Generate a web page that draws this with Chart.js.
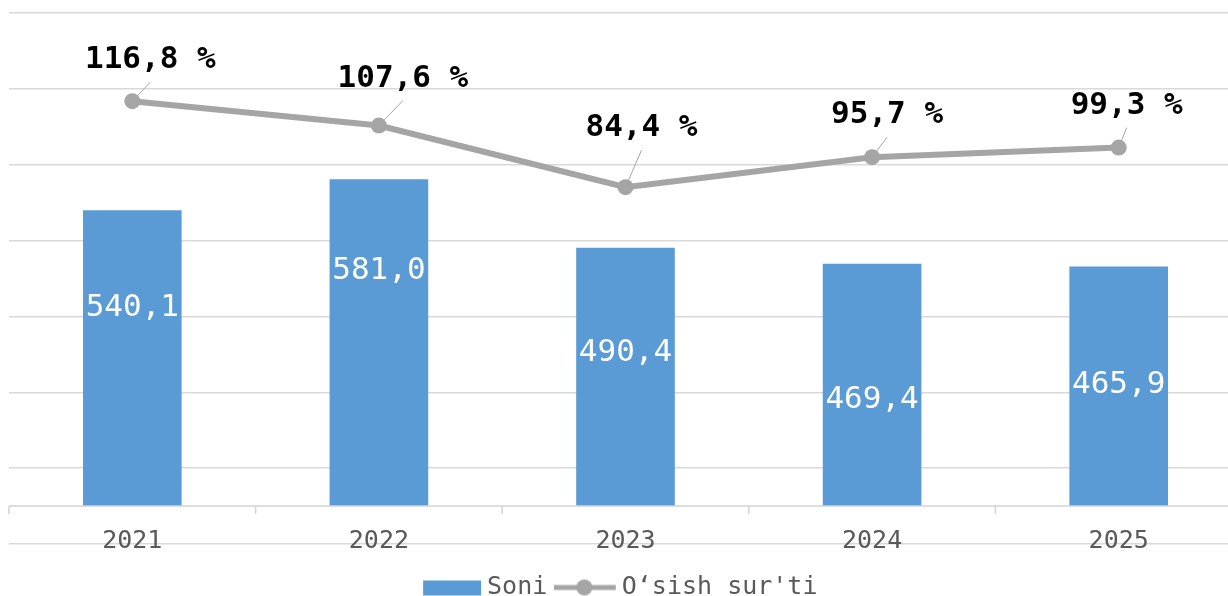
<!DOCTYPE html>
<html>
<head>
<meta charset="utf-8">
<script src="https://cdn.jsdelivr.net/npm/chart.js@4.4.1/dist/chart.umd.min.js"></script>
<style>
html, body { margin: 0; padding: 0; background: #fff; overflow: hidden; }
#wrap { position: absolute; left: 0; top: 0; width: 1252px; height: 610px; }
</style>
</head>
<body>
<div id="wrap"><canvas id="chart"></canvas></div>
<script>
const years = ['2021', '2022', '2023', '2024', '2025'];
const soni = [540.1, 581.0, 490.4, 469.4, 465.9];
const osish = [116.8, 107.6, 84.4, 95.7, 99.3];
const barBase = 150;

// labels were nudged by hand in the original, keep the same nudges (px)
const barLabelShift = [-50, -72, -24, 15, -1];
const lineLabelShift = [[18, -41], [24, -47], [16, -59], [15, -42], [8, -42]];

const BLUE = '#5b9bd5';
const GREY = '#a5a5a5';
const TEXT = '#595959';
const FONT = '"DejaVu Sans Mono", "Liberation Mono", monospace';

Chart.defaults.font.family = FONT;

function fmt(v) {
    return v.toFixed(1).replace('.', ',');
}

// legend markers: a plain box for the bars, a line with a dot for the rate
function legendIcon(kind) {
    const c = document.createElement('canvas');
    c.width = 70;
    c.height = 18;
    const g = c.getContext('2d');
    if (kind === 'bar') {
        g.fillStyle = BLUE;
        g.fillRect(4, 2, 58, 15);
    } else {
        g.strokeStyle = GREY;
        g.lineWidth = 5;
        g.beginPath();
        g.moveTo(-1, 9);
        g.lineTo(62, 9);
        g.stroke();
        g.fillStyle = GREY;
        g.beginPath();
        g.arc(30.5, 9, 8, 0, Math.PI * 2);
        g.fill();
    }
    return c;
}
const icons = [legendIcon('bar'), legendIcon('line')];

const extras = {
    id: 'extras',
    afterDatasetsDraw(chart) {
        const ctx = chart.ctx;
        const x = chart.scales.x;
        const y = chart.scales.y;
        const base = y.getPixelForValue(barBase);
        ctx.save();

        // category axis sits on the bar base, not on the bottom of the plot
        ctx.strokeStyle = '#d4d4d4';
        ctx.lineWidth = 1.5;
        ctx.beginPath();
        ctx.moveTo(x.left, base);
        ctx.lineTo(x.right, base);
        const step = (x.right - x.left) / years.length;
        for (let i = 0; i <= years.length; i++) {
            const px = x.left + i * step;
            ctx.moveTo(px, base);
            ctx.lineTo(px, base + 8);
        }
        ctx.stroke();

        ctx.textAlign = 'center';
        ctx.textBaseline = 'middle';

        // year labels, hanging under the axis over the last grid line
        ctx.font = '25px ' + FONT;
        ctx.fillStyle = TEXT;
        years.forEach((yr, i) => {
            ctx.fillText(yr, x.getPixelForTick(i), base + 35);
        });

        // values inside the bars
        ctx.font = '31px ' + FONT;
        ctx.fillStyle = '#ffffff';
        chart.getDatasetMeta(0).data.forEach((b, i) => {
            const cy = (b.y + b.base) / 2 + barLabelShift[i];
            ctx.fillText(fmt(soni[i]), b.x, cy);
        });

        // growth labels with leader lines
        ctx.font = 'bold 31px ' + FONT;
        chart.getDatasetMeta(1).data.forEach((p, i) => {
            const lx = p.x + lineLabelShift[i][0];
            const ly = p.y + lineLabelShift[i][1];
            const ex = lx, ey = ly + 22;
            const dx = ex - p.x, dy = ey - p.y;
            const len = Math.sqrt(dx * dx + dy * dy);
            if (len > 10) {
                ctx.strokeStyle = GREY;
                ctx.lineWidth = 1;
                ctx.beginPath();
                ctx.moveTo(p.x + dx / len * 6, p.y + dy / len * 6);
                ctx.lineTo(ex, ey);
                ctx.stroke();
            }
            ctx.fillStyle = '#000000';
            ctx.fillText(fmt(osish[i]) + ' %', lx, ly);
        });
        ctx.restore();
    }
};

new Chart(document.getElementById('chart'), {
    data: {
        labels: years,
        datasets: [{
            type: 'bar',
            label: 'Soni',
            data: soni,
            base: barBase,
            backgroundColor: BLUE,
            barPercentage: 0.4,
            categoryPercentage: 1,
            yAxisID: 'y'
        }, {
            type: 'line',
            label: 'O‘sish sur\'ti',
            data: osish,
            borderColor: GREY,
            backgroundColor: GREY,
            borderWidth: 6,
            pointRadius: 8,
            pointHoverRadius: 8,
            pointBorderWidth: 0,
            pointBackgroundColor: GREY,
            yAxisID: 'y1'
        }]
    },
    options: {
        responsive: true,
        maintainAspectRatio: false,
        animation: false,
        layout: {
            padding: {top: 13, left: 9, right: 10, bottom: 0}
        },
        plugins: {
            tooltip: {enabled: false},
            legend: {
                position: 'bottom',
                labels: {
                    color: TEXT,
                    font: {size: 25},
                    usePointStyle: true,
                    pointStyleWidth: 41,
                    padding: 21,
                    generateLabels: function(chart) {
                        const items = Chart.defaults.plugins.legend.labels.generateLabels(chart);
                        items.forEach((it) => {
                            it.pointStyle = icons[it.datasetIndex];
                        });
                        return items;
                    },
                    sort: (a, b) => a.datasetIndex - b.datasetIndex
                }
            }
        },
        scales: {
            x: {
                grid: {display: false},
                border: {display: false},
                ticks: {display: false},
                afterFit: (scale) => { scale.height = 10; }
            },
            y: {
                min: 100,
                max: 800,
                ticks: {display: false, stepSize: 100},
                border: {display: false},
                grid: {color: '#d9d9d9', lineWidth: 1.5, drawTicks: false}
            },
            y1: {
                display: false,
                min: -50,
                max: 150
            }
        }
    },
    plugins: [extras]
});
</script>
</body>
</html>
